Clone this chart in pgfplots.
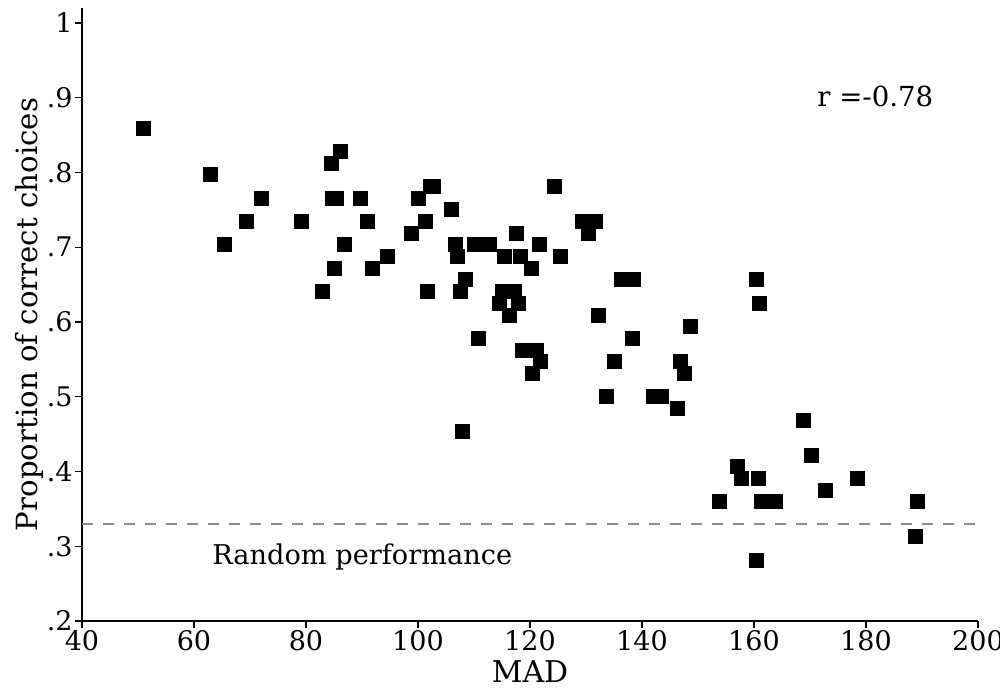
\documentclass[border=0pt]{standalone}
\usepackage{fontspec}
\setmainfont{DejaVu Serif}
\usepackage{pgfplots}
\usepackage{pgfplotstable}
\pgfplotsset{compat=1.18}

% MAD against the proportion of correct choices, one row per participant
\pgfplotstableread{
mad    prop
50.9   0.8594
86.1   0.8281
84.5   0.8125
62.9   0.7969
72.0   0.7656
84.8   0.7656
85.4   0.7656
89.8   0.7656
69.3   0.7344
79.1   0.7344
90.9   0.7344
65.5   0.7031
86.8   0.7031
94.5   0.6875
85.0   0.6719
91.8   0.6719
83.0   0.6406
102.2  0.7813
102.8  0.7813
100.0  0.7656
124.3  0.7813
105.9  0.7500
101.4  0.7344
98.9   0.7188
117.5  0.7188
129.3  0.7344
131.6  0.7344
130.5  0.7188
106.6  0.7031
110.0  0.7031
112.7  0.7031
121.6  0.7031
107.1  0.6875
115.5  0.6875
118.2  0.6875
125.4  0.6875
120.2  0.6719
108.4  0.6563
136.3  0.6563
138.4  0.6563
101.6  0.6406
107.5  0.6406
115.0  0.6406
117.3  0.6406
114.5  0.6250
117.9  0.6250
116.4  0.6094
132.3  0.6094
110.7  0.5781
138.2  0.5781
160.4  0.6563
160.9  0.6250
148.6  0.5938
118.6  0.5625
121.1  0.5625
121.8  0.5469
120.4  0.5313
135.0  0.5469
133.6  0.5000
107.9  0.4531
146.8  0.5469
147.5  0.5313
142.0  0.5000
143.4  0.5000
146.3  0.4844
168.8  0.4688
170.2  0.4219
157.0  0.4063
157.7  0.3906
160.7  0.3906
178.4  0.3906
172.7  0.3750
153.8  0.3594
161.3  0.3594
163.9  0.3594
189.1  0.3594
188.8  0.3125
160.5  0.2813
}\madtable

\begin{document}
\begin{tikzpicture}
\begin{axis}[
  at={(0,0)}, anchor=south west,
  scale only axis, width=448pt, height=306.5pt,
  xmin=40, xmax=200, ymin=0.2, ymax=1.02,
  axis lines*=left,
  axis line style={line width=0.7pt, black},
  tick align=outside, major tick length=3.5pt,
  tick style={line width=0.7pt, black},
  xtick={40,60,80,100,120,140,160,180,200},
  ytick={0.2,0.3,0.4,0.5,0.6,0.7,0.8,0.9,1.0},
  yticklabels={.2,.3,.4,.5,.6,.7,.8,.9,1},
  /pgf/number format/assume math mode=true,
  tick label style={font=\fontsize{13.5}{16}\selectfont},
  xticklabel style={inner sep=1pt},
  yticklabel style={inner sep=1pt},
  every axis x label/.style={at={(axis description cs:0.5,-0.1011)}, anchor=base,
    font=\fontsize{15}{18}\selectfont},
  every axis y label/.style={at={(axis description cs:-0.0502,0.5)}, rotate=90, anchor=base,
    font=\fontsize{14.6}{18}\selectfont},
  xlabel={MAD},
  ylabel={Proportion of correct choices},
  clip=false,
]
% chance level for three options
\addplot[color={rgb,255:red,140;green,140;blue,140}, line width=1.1pt,
  dash pattern=on 5.5pt off 5pt] coordinates {(40,0.33) (200,0.33)};
\addplot[only marks, mark=square*, mark size=3.5pt,
  mark options={draw=none, fill=black}] table[x=mad, y=prop] {\madtable};
\node[anchor=base west, font=\fontsize{13.6}{17}\selectfont, inner sep=0pt]
  at (axis cs:63.2,0.275) {Random performance};
\node[anchor=base west, font=\fontsize{13.8}{17}\selectfont, inner sep=0pt]
  at (axis cs:171.25,0.8876) {r =-0.78};
\end{axis}
\pgfresetboundingbox
\useasboundingbox (-41pt,-34pt) rectangle (459pt,310.5pt);
\end{tikzpicture}
\end{document}
